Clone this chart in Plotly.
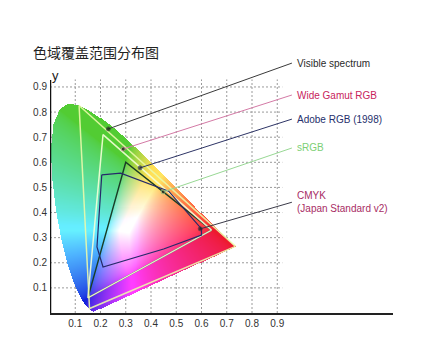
import numpy as np
import plotly.graph_objects as go

# ---------------- data ----------------
# CIE 1931 spectral locus (x, y) from 380 nm to 700 nm
locus_x = [0.1741, 0.1733, 0.1726, 0.1714, 0.1689, 0.1644, 0.1566, 0.1440, 0.1355, 0.1241,
           0.1096, 0.0913, 0.0687, 0.0454, 0.0235, 0.0082, 0.0039, 0.0139, 0.0389, 0.0743,
           0.1142, 0.1547, 0.1929, 0.2296, 0.2658, 0.3016, 0.3373, 0.3731, 0.4087, 0.4441,
           0.4788, 0.5125, 0.5448, 0.5752, 0.6029, 0.6270, 0.6658, 0.6915, 0.7079, 0.7190,
           0.7260, 0.7334, 0.7347]
locus_y = [0.0050, 0.0048, 0.0048, 0.0051, 0.0069, 0.0109, 0.0177, 0.0297, 0.0399, 0.0578,
           0.0868, 0.1327, 0.2007, 0.2950, 0.4127, 0.5384, 0.6548, 0.7502, 0.8120, 0.8338,
           0.8262, 0.8059, 0.7816, 0.7543, 0.7243, 0.6923, 0.6589, 0.6245, 0.5896, 0.5547,
           0.5202, 0.4866, 0.4544, 0.4242, 0.3965, 0.3725, 0.3340, 0.3083, 0.2920, 0.2809,
           0.2740, 0.2666, 0.2653]

# gamut polygons (x, y)
wide_x = [0.7347, 0.1152, 0.1566]
wide_y = [0.2653, 0.8264, 0.0177]
adobe_x = [0.64, 0.21, 0.15]
adobe_y = [0.33, 0.71, 0.06]
srgb_x = [0.64, 0.30, 0.15]
srgb_y = [0.33, 0.60, 0.06]
cmyk_x = [0.205, 0.280, 0.470, 0.600, 0.600, 0.450, 0.210, 0.186]
cmyk_y = [0.550, 0.557, 0.485, 0.335, 0.310, 0.255, 0.183, 0.263]

# callout labels
label_names = ["Visible spectrum", "Wide Gamut RGB", "Adobe RGB (1998)", "sRGB",
               "CMYK<br>(Japan Standard v2)"]
label_colors = ["#2a2a2a", "#c8245c", "#26306c", "#7ccf74", "#a82c64"]
leader_colors = ["#3a3a3a", "#d47aa6", "#2e3566", "#98d894", "#3a3a48"]
pointer_x = [0.231, 0.290, 0.357, 0.448, 0.595]
pointer_y = [0.733, 0.653, 0.578, 0.482, 0.335]
label_y = [0.995, 0.868, 0.772, 0.657, 0.441]

tick_vals = [0.1, 0.2, 0.3, 0.4, 0.5, 0.6, 0.7, 0.8, 0.9]
tick_text = ["0.1", "0.2", "0.3", "0.4", "0.5", "0.6", "0.7", "0.8", "0.9"]

# ---------------- chromaticity colour field ----------------
step = 0.004
gx = np.arange(0.002, 0.76, step)
gy = np.arange(0.002, 0.86, step)
PX, PY = np.meshgrid(gx, gy)


def inside(px, py, vx, vy):
    vx = np.asarray(vx); vy = np.asarray(vy)
    n = len(vx)
    c = np.zeros(px.shape, dtype=bool)
    j = n - 1
    for i in range(n):
        cond = ((vy[i] > py) != (vy[j] > py)) & (
            px < (vx[j] - vx[i]) * (py - vy[i]) / (vy[j] - vy[i] + 1e-12) + vx[i])
        c ^= cond
        j = i
    return c


mask = inside(PX, PY, locus_x, locus_y)
Yv = np.maximum(PY, 1e-4)
Xc = PX / Yv
Zc = (1 - PX - PY) / Yv
M = np.array([[3.2406, -1.5372, -0.4986],
              [-0.9689, 1.8758, 0.0415],
              [0.0557, -0.2040, 1.0570]])
rgb = np.tensordot(M, np.stack([Xc, np.ones_like(Xc), Zc]), axes=1)
rgb = np.clip(rgb, 0, None)
rgb = rgb / np.maximum(rgb.max(axis=0, keepdims=True), 1e-9)
rgb = np.power(rgb, 0.6)
# soften the primaries toward the printed look of the original figure
A = np.array([[0.93, 0.32, 0.08],
              [0.10, 0.80, 0.14],
              [0.18, 0.20, 0.86]])
rgb = np.tensordot(A, rgb, axes=1)
rgb = np.clip(rgb, 0, 1) * 255
img = np.zeros(PX.shape + (4,))
img[..., 0] = rgb[0]
img[..., 1] = rgb[1]
img[..., 2] = rgb[2]
img[..., 3] = np.where(mask, 1.0, 0.0)
img[..., :3] = np.where(mask[..., None], img[..., :3], 255)

fig = go.Figure()

# grid (dotted)
GRID = "#9a9a9a"
for v in tick_vals:
    fig.add_shape(type="line", x0=v, x1=v, y0=0, y1=0.93, xref="x", yref="y", layer="below",
                  line=dict(color=GRID, width=1, dash="2px,2px"))
    fig.add_shape(type="line", x0=0, x1=0.92, y0=v, y1=v, xref="x", yref="y", layer="below",
                  line=dict(color=GRID, width=1, dash="2px,2px"))

fig.add_trace(go.Image(z=img.tolist(), colormodel="rgba", x0=gx[0], dx=step, y0=gy[0], dy=step,
                       hoverinfo="skip"))


def closed(a):
    return list(a) + [a[0]]


fig.add_trace(go.Scatter(x=closed(srgb_x), y=closed(srgb_y), mode="lines",
                         line=dict(color="#1a3d26", width=1.4), hoverinfo="skip"))
fig.add_trace(go.Scatter(x=closed(adobe_x), y=closed(adobe_y), mode="lines",
                         line=dict(color="rgba(245,255,215,0.9)", width=1.5), hoverinfo="skip"))
fig.add_trace(go.Scatter(x=closed(wide_x), y=closed(wide_y), mode="lines",
                         line=dict(color="rgba(235,250,170,0.9)", width=1.5), hoverinfo="skip"))
fig.add_trace(go.Scatter(x=closed(cmyk_x), y=closed(cmyk_y), mode="lines",
                         line=dict(color="#262a6a", width=1.2), hoverinfo="skip"))

# leader lines and labels
LINE_END_X = 0.958
for name, tc, lc, px, py, ly in zip(label_names, label_colors, leader_colors,
                                    pointer_x, pointer_y, label_y):
    fig.add_trace(go.Scatter(x=[px, LINE_END_X], y=[py, ly], mode="lines+markers",
                             line=dict(color=lc, width=1),
                             marker=dict(size=[4, 0], color="#1a1a1a"),
                             hoverinfo="skip", cliponaxis=False))
    fig.add_annotation(x=0.970, y=ly, xref="x", yref="y", text=name, showarrow=False,
                       xanchor="left", yanchor="middle", align="left",
                       font=dict(family="Liberation Sans, Arial", size=10, color=tc))

# y axis line
fig.add_shape(type="line", x0=0, x1=0, y0=0, y1=0.928, xref="x", yref="y",
              line=dict(color="#111", width=2.5))

fig.add_annotation(x=0.022, y=0.945, xref="x", yref="y", text="y", showarrow=False,
                   xanchor="center", yanchor="middle",
                   font=dict(family="Liberation Sans, Arial", size=13, color="#222"))
fig.add_annotation(x=-0.028, y=0, xref="x", yref="y", text="0", showarrow=False,
                   xanchor="center", yanchor="top", yshift=-2,
                   font=dict(family="Liberation Sans, Arial", size=10, color="#333"))

fig.update_layout(
    width=430, height=350,
    margin=dict(l=42, r=45, t=22, b=45),
    paper_bgcolor="white", plot_bgcolor="white",
    showlegend=False,
    title=dict(text="色域覆盖范围分布图", x=25 / 430, xanchor="left", xref="container",
               y=1 - 45 / 350, yanchor="middle", yref="container",
               font=dict(family="Noto Sans CJK SC", size=14, color="#222")),
    xaxis=dict(range=[0, 1.3584], tickvals=tick_vals, ticktext=tick_text, showgrid=False,
               zeroline=False, showline=True, linecolor="#222", linewidth=2, ticks="",
               tickfont=dict(family="Liberation Sans, Arial", size=10, color="#333")),
    yaxis=dict(range=[0, 1.1268], tickvals=tick_vals, ticktext=tick_text, showgrid=False,
               zeroline=False, showline=False, ticks="", scaleanchor=False,
               autorange=False, ticklabelstandoff=2,
               tickfont=dict(family="Liberation Sans, Arial", size=10, color="#333")),
)

fig.write_html("out.html")
